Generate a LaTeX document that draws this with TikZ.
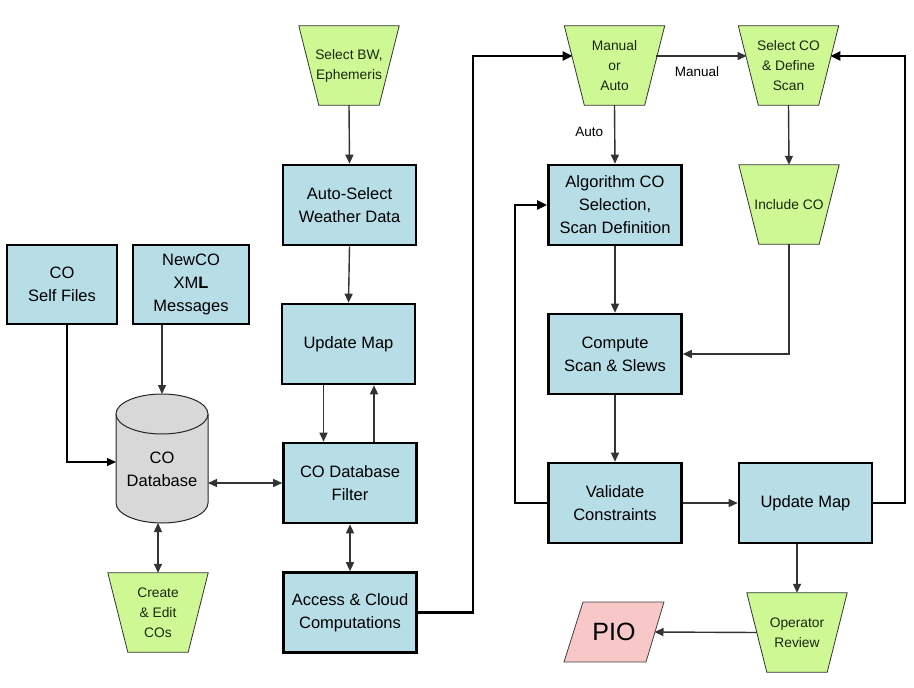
\documentclass[tikz,border=0pt]{standalone}
\usepackage{fontspec}
\setmainfont{Liberation Sans}
\usetikzlibrary{arrows.meta,calc,backgrounds}
\definecolor{boxblue}{RGB}{183,221,230}
\definecolor{trapgreen}{RGB}{206,248,148}
\definecolor{piopink}{RGB}{248,200,200}
\definecolor{dbgray}{RGB}{216,216,216}
\definecolor{traptext}{RGB}{25,40,15}
\begin{document}
\begin{tikzpicture}[x=1pt,y=-1pt,
  box/.style={draw=black, line width=2.6pt, fill=boxblue, minimum width=133, minimum height=80,
    align=center, inner sep=0, font=\fontsize{16.5}{23}\selectfont},
  trapnode/.style={minimum width=100, minimum height=79, inner sep=0, align=center,
    text=traptext, font=\fontsize{13.8}{20}\selectfont},
  trapfill/.style={fill=trapgreen, draw=black!80, line width=0.8pt},
  lbl/.style={font=\fontsize{13.5}{16}\selectfont, inner sep=1pt},
  conn/.style={draw=black!80, line width=1.4pt, -{Triangle[length=9pt,width=8pt]}},
  dconn/.style={draw=black!80, line width=1.4pt, {Triangle[length=9pt,width=8pt]}-{Triangle[length=9pt,width=8pt]}},
  thickconn/.style={draw=black, line width=2.4pt, -{Triangle[length=10pt,width=9pt]}},
  invis/.style={inner sep=0, outer sep=0}
]
\useasboundingbox (0,0) rectangle (914,688);

% trapezoid nodes
\node[trapnode] (sbw) at (349,65.5) {Select BW,\\Ephemeris};
\node[trapnode] (moa) at (614.5,65.5) {Manual\\or\\Auto};
\node[trapnode] (sco) at (788.5,65.5) {Select CO\\\& Define\\Scan};
\node[trapnode] (inc) at (789,204.5) {Include CO};
\node[trapnode] (cre) at (158,612.5) {Create\\\& Edit\\COs};
\node[trapnode] (opr) at (797,632.5) {Operator\\Review};

% boxes
\node[box, minimum width=110, minimum height=79] (self) at (62,284.5) {CO\\Self Files};
\node[box, minimum width=116, minimum height=79] (newco) at (191,284.5) {NewCO\\XM\textbf{L}\\Messages};
\node[box] (asw) at (349.5,205) {Auto-Select\\Weather Data};
\node[box] (uml) at (348.5,344) {Update Map};
\node[box] (filt) at (350,483) {CO Database\\Filter};
\node[box] (acc) at (350,612.5) {Access \& Cloud\\Computations};
\node[box] (alg) at (615,205) {Algorithm CO\\Selection,\\Scan Definition};
\node[box] (cmp) at (615,354) {Compute\\Scan \& Slews};
\node[box] (val) at (615,503) {Validate\\Constraints};
\node[box] (umr) at (805.5,503) {Update Map};

% database
\node[invis, minimum width=92, minimum height=129] (db) at (162,458.5) {};
\node[align=center, inner sep=0, font=\fontsize{16.5}{23}\selectfont] (dbt) at (162,469) {CO\\Database};

% PIO
\node[invis, minimum width=100, minimum height=60, font=\fontsize{25}{28}\selectfont] (pio) at (614,632) {PIO};

\begin{scope}[on background layer]
  \fill[white] (0,0) rectangle (914,688);
  \foreach \n in {sbw,moa,sco,inc,cre,opr}{
    \path[trapfill] (\n.north west) -- (\n.north east) -- ($(\n.south east)+(-20,0)$)
      -- ($(\n.south west)+(20,0)$) -- cycle;
  }
  \path[fill=piopink, draw=black!75, line width=0.8pt]
    ($(pio.north west)+(19,0)$) -- (pio.north east) -- ($(pio.south east)+(-18,0)$) -- (pio.south west) -- cycle;
  % cylinder
  \fill[dbgray] (116,414) -- (116,503) arc[start angle=180,end angle=0,x radius=46,y radius=20]
     -- (208,414) -- cycle;
  \draw[black!85, line width=1pt] (116,414) -- (116,503) arc[start angle=180,end angle=0,x radius=46,y radius=20] -- (208,414);
  \filldraw[fill=dbgray, draw=black!85, line width=1pt] (162,414) ellipse[x radius=46, y radius=20];
\end{scope}

% free-end coordinates
\coordinate (moaL) at (572.6,56);
\coordinate (moaR) at (656.4,56);
\coordinate (scoL) at (746.6,56);
\coordinate (scoR) at (830.4,56);
\coordinate (c1) at (473,56);
\coordinate (c2) at (515,503);
\coordinate (c3) at (905,503);
\coordinate (oprL) at ($(opr.west)+(10,0)$);
\coordinate (pioR) at ($(pio.east)+(-9.5,0)$);

% connectors
\draw[conn] (sbw.south) -- (asw.north);
\draw[conn] (asw.south) -- (uml.north);
\draw[conn] ([xshift=-25pt]uml.south) -- ([xshift=-25pt]uml.south |- filt.north);
\draw[conn] ([xshift=24pt]filt.north) -- ([xshift=24pt]filt.north |- uml.south);
\draw[conn, draw=black] ([xshift=5pt]self.south) |- ([yshift=-3.5pt]db.west);
\draw[conn] (newco.south -| db.north) -- (db.north);
\draw[dconn] (db.east |- filt.west) -- (filt.west);
\draw[dconn] (cre.north |- db.south) -- (cre.north);
\draw[dconn] (filt.south) -- (acc.north);
\draw[thickconn] (acc.east) -| (c1) -- (moaL);
\draw[conn] (moaR) -- (scoL) node[lbl, pos=0.45, below=9pt] (lman) {Manual};
\draw[conn] (moa.south) -- (alg.north) node[lbl, pos=0.45, left=10pt] (lauto) {Auto};
\draw[conn] (sco.south) -- (inc.north);
\draw[conn] (inc.south) |- (cmp.east);
\draw[conn] (alg.south) -- (cmp.north);
\draw[conn] (cmp.south) -- (val.north);
\draw[thickconn] (val.west) -- (c2) |- (alg.west);
\draw[conn] (val.east) -- (umr.west);
\draw[thickconn] (umr.east) -- (c3) |- (scoR);
\draw[conn] (umr.south -| opr.north) -- (opr.north);
\draw[conn] (oprL) -- (pioR);
\end{tikzpicture}
\end{document}
